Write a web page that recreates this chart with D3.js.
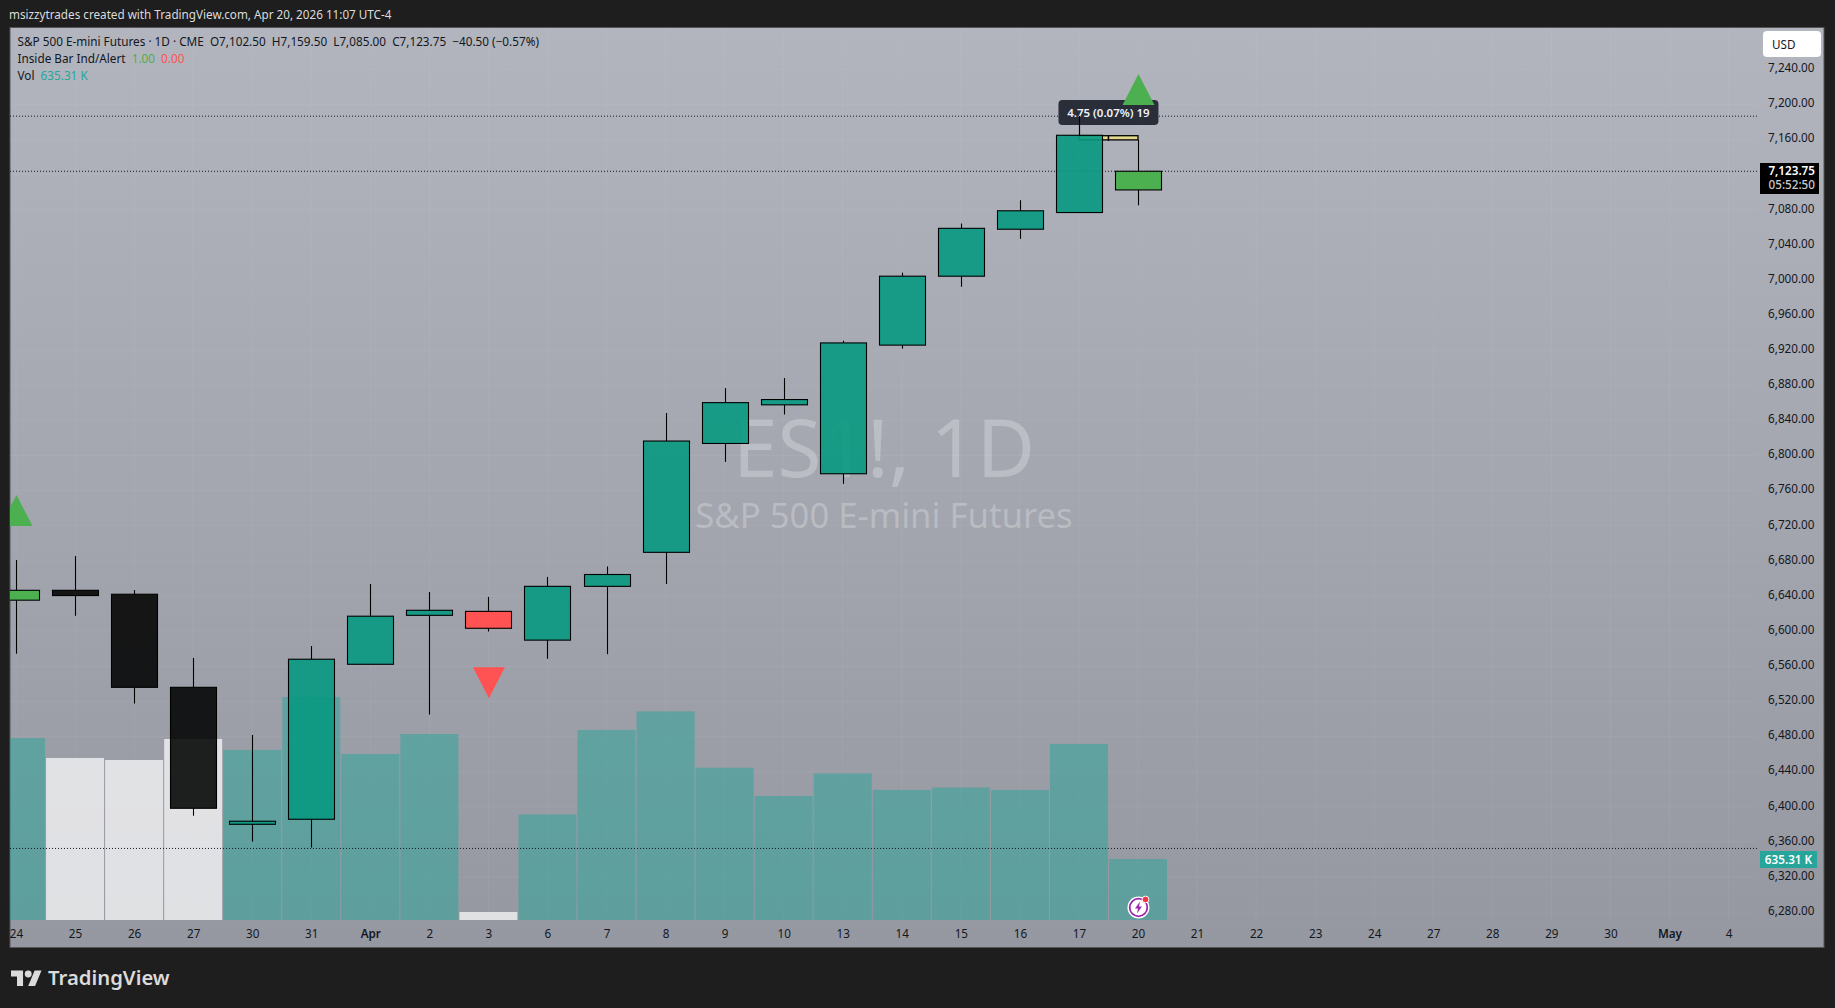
<!DOCTYPE html>
<html>
<head>
<meta charset="utf-8">
<script src="https://cdn.jsdelivr.net/npm/d3@7"></script>
<style>
html, body { margin: 0; padding: 0; background: #1e1e1e; overflow: hidden; }
svg text { font-family: "Noto Sans", sans-serif; }
</style>
</head>
<body>
<svg id="chart" width="1835" height="1008"></svg>
<script>
const svg = d3.select('#chart')

// chart data
const dayLabels = ['24','25','26','27','30','31','Apr','2','3','6','7','8','9','10','13','14','15','16','17','20',
	'21','22','23','24','27','28','29','30','May','4']
const opens  = [6635.25,6646.5,6642,6536,6380,6385.75,6562.25,6618,6622.5,6589.75,6651,6689.75,6813.75,6857.75,6779.25,6925.75,7004.25,7057.75,7076.75,7102.5]
const highs  = [6681,6685.5,6646.75,6569.5,6481.75,6583,6653.75,6644.5,6639,6661.75,6673.75,6848.5,6876.75,6888.25,6930.75,7008.25,7064.25,7090.75,7186.75,7159.5]
const lows   = [6574.25,6617.5,6517.5,6389.75,6360.25,6353.5,6562.25,6505,6599.5,6568.5,6573.75,6653.75,6792.75,6846.75,6767.75,6921.75,6992.25,7046.75,7076.75,7085]
const closes = [6646.5,6640.5,6536,6398.25,6383.5,6568,6617,6623.75,6603.25,6651,6664.5,6816.5,6860.25,6863.75,6928.25,7004.25,7058.75,7078.75,7164.75,7123.75]
const candleKinds = ['inside','black','black','black','teal','teal','teal','teal','red','teal','teal','teal','teal','teal','teal','teal','teal','teal','teal','inside']
const volumes = [1895,1687,1666,1885,1771,2322,1729,1937,83,1099,1979,2172,1586,1291,1526,1354,1379,1354,1833,635.31]
const volumeKinds = ['teal','white','white','white','teal','teal','teal','teal','white','teal','teal','teal','teal','teal','teal','teal','teal','teal','teal','teal']
const signalBars = [0, 8, 19]
const signalDirs = ['up', 'down', 'up']
const signalPrices = [6719.75, 6559, 7199.25]
const priceLines = [7186.5, 7123.75, 6352.5]
const priceTicks = d3.range(6280, 7241, 40)
const measureFrom = 7159.5
const measureTo = 7164.25

const bodyColors = { inside: '#4caf50', black: '#000000', teal: '#089981', red: '#ff5252' }
const bodyAlpha = { inside: 1, black: 0.87, teal: 0.9, red: 1 }
const volColors = { teal: 'rgba(38,166,154,0.5)', white: 'rgba(255,255,255,0.7)' }
const textColor = '#131722'

// pane geometry
const paneLeft = 10
const paneRight = 1757
const paneTop = 28
const paneBottom = 920
const frameRight = 1824
const frameBottom = 947
const bodyWidth = 46
const volWidth = 58

const xScale = d3.scaleLinear().domain([0, 29]).range([16, 1728.5])
const yScale = d3.scaleLinear().domain([6280, 7240]).range([912.1, 69.2])
const volScale = d3.scaleLinear().domain([0, 2322]).range([paneBottom, 697])

const defs = svg.append('defs')
const grad = defs.append('linearGradient').attr('id', 'bg').attr('x1', 0).attr('x2', 0).attr('y1', 0).attr('y2', 1)
grad.append('stop').attr('offset', 0).attr('stop-color', '#b2b5be')
grad.append('stop').attr('offset', 1).attr('stop-color', '#9598a1')
defs.append('clipPath').attr('id', 'pane').append('rect')
	.attr('x', paneLeft).attr('y', paneTop).attr('width', paneRight - paneLeft).attr('height', paneBottom - paneTop)
defs.append('clipPath').attr('id', 'timeClip').append('rect')
	.attr('x', paneLeft).attr('y', paneBottom).attr('width', paneRight - paneLeft).attr('height', frameBottom - paneBottom)

// header
svg.append('text').attr('x', 9).attr('y', 19)
	.text('msizzytrades created with TradingView.com, Apr 20, 2026 11:07 UTC-4')
	.style('font-size', '11.7px').style('fill', '#dbdbdb')

// frame and background
svg.append('rect').attr('x', paneLeft).attr('y', paneTop - 0.5)
	.attr('width', frameRight - paneLeft).attr('height', frameBottom - paneTop + 1)
	.attr('fill', 'url(#bg)').attr('stroke', '#555')

// faint grid
const grid = svg.append('g').attr('clip-path', 'url(#pane)')
grid.selectAll('line.v').data(d3.range(30)).enter().append('line')
	.attr('x1', d => xScale(d)).attr('x2', d => xScale(d)).attr('y1', paneTop).attr('y2', paneBottom)
	.attr('stroke', 'rgba(255,255,255,0.05)')
grid.selectAll('line.h').data(priceTicks).enter().append('line')
	.attr('x1', paneLeft).attr('x2', paneRight).attr('y1', d => yScale(d)).attr('y2', d => yScale(d))
	.attr('stroke', 'rgba(255,255,255,0.05)')

// watermark
svg.append('text').attr('x', 884).attr('y', 477).attr('text-anchor', 'middle')
	.text('ES1!, 1D').style('font-size', '80px').style('fill', 'rgba(255,255,255,0.25)')
svg.append('text').attr('x', 884).attr('y', 528).attr('text-anchor', 'middle')
	.text('S&P 500 E-mini Futures').style('font-size', '34.7px').style('fill', 'rgba(255,255,255,0.25)')

const pane = svg.append('g').attr('clip-path', 'url(#pane)')

// volume
pane.selectAll('rect.vol').data(volumes).enter().append('rect')
	.attr('class', 'vol')
	.attr('x', (d, i) => xScale(i) - volWidth / 2)
	.attr('width', volWidth)
	.attr('y', d => volScale(d))
	.attr('height', d => paneBottom - volScale(d))
	.attr('fill', (d, i) => volColors[volumeKinds[i]])

// price lines
pane.selectAll('line.price').data(priceLines).enter().append('line')
	.attr('x1', paneLeft).attr('x2', paneRight)
	.attr('y1', d => yScale(d)).attr('y2', d => yScale(d))
	.attr('stroke', '#131722').attr('stroke-width', 1).attr('stroke-dasharray', '1 2')

// measure tool between bars 17 and 20, it lies under the candles
pane.append('rect')
	.attr('x', xScale(18)).attr('width', xScale(19) - xScale(18))
	.attr('y', yScale(measureTo)).attr('height', yScale(measureFrom) - yScale(measureTo))
	.attr('fill', '#e3d98c').attr('stroke', '#000').attr('stroke-width', 1.3)
pane.append('line')
	.attr('x1', (xScale(18) + xScale(19)) / 2).attr('x2', (xScale(18) + xScale(19)) / 2)
	.attr('y1', yScale(measureTo)).attr('y2', yScale(measureFrom) + 1)
	.attr('stroke', '#000').attr('stroke-width', 1.5)

// candles, wicks stop at the body
const candles = pane.selectAll('g.candle').data(opens).enter().append('g').attr('class', 'candle')
const wickX = i => Math.round(xScale(i)) + 0.5
candles.append('line')
	.attr('x1', (d, i) => wickX(i)).attr('x2', (d, i) => wickX(i))
	.attr('y1', (d, i) => yScale(highs[i])).attr('y2', (d, i) => yScale(Math.max(d, closes[i])))
	.attr('stroke', '#000').attr('stroke-width', 1.1)
candles.append('line')
	.attr('x1', (d, i) => wickX(i)).attr('x2', (d, i) => wickX(i))
	.attr('y1', (d, i) => yScale(Math.min(d, closes[i]))).attr('y2', (d, i) => yScale(lows[i]))
	.attr('stroke', '#000').attr('stroke-width', 1.1)
candles.append('rect')
	.attr('x', (d, i) => Math.round(xScale(i) - bodyWidth / 2) + 0.5)
	.attr('width', bodyWidth)
	.attr('y', (d, i) => yScale(Math.max(d, closes[i])))
	.attr('height', (d, i) => Math.abs(yScale(d) - yScale(closes[i])))
	.attr('fill', (d, i) => bodyColors[candleKinds[i]])
	.attr('fill-opacity', (d, i) => bodyAlpha[candleKinds[i]])
	.attr('stroke', '#000').attr('stroke-width', 1.1)

// tooltip of the measure tool
const tipX = (xScale(18) + xScale(19)) / 2
svg.append('rect').attr('x', tipX - 50).attr('y', 100).attr('width', 100).attr('height', 25)
	.attr('rx', 4).attr('fill', '#2a2e39')
svg.append('text').attr('x', tipX).attr('y', 116.5).attr('text-anchor', 'middle')
	.text('4.75 (0.07%) 19').style('font-size', '11.5px').style('font-weight', 600).style('fill', '#f0f3fa')
// wick of the 17th bar is on top of the tooltip
svg.append('line').attr('x1', wickX(18)).attr('x2', wickX(18))
	.attr('y1', yScale(highs[18])).attr('y2', yScale(closes[18]))
	.attr('stroke', '#000').attr('stroke-width', 1.1)

// inside bar signals
const triHalf = 16
const triHeight = 31
svg.append('g').attr('clip-path', 'url(#pane)').selectAll('path.signal').data(signalBars).enter().append('path')
	.attr('d', (d, i) => {
		const cx = xScale(d) + 0.5
		const base = yScale(signalPrices[i])
		const tip = signalDirs[i] === 'up' ? base - triHeight : base + triHeight
		return `M ${cx - triHalf} ${base} L ${cx + triHalf} ${base} L ${cx} ${tip} Z`
	})
	.attr('fill', (d, i) => signalDirs[i] === 'up' ? '#4caf50' : '#ff5252')

// price axis, the 7,120 tick sits under the last price label
const yAxis = d3.axisRight(yScale).tickValues(priceTicks.filter(d => d !== 7120)).tickSize(0).tickFormat(d3.format(',.2f'))
const yTicks = svg.append('g').attr('transform', 'translate(1814.5, 0)').call(yAxis)
yTicks.select('path.domain').remove()
yTicks.selectAll('text').attr('x', 0).attr('dy', '0.2em').attr('text-anchor', 'end')
	.style('font-size', '11.7px').style('font-family', '"Noto Sans", sans-serif').style('fill', textColor)

// time axis
const xAxis = d3.axisBottom(xScale).tickValues(d3.range(30)).tickSize(0).tickFormat(i => dayLabels[i])
const xTicks = svg.append('g').attr('clip-path', 'url(#timeClip)').append('g')
	.attr('transform', `translate(0, ${paneBottom})`).call(xAxis)
xTicks.select('path.domain').remove()
xTicks.selectAll('text').attr('y', 18).attr('dy', 0)
	.style('font-size', '11.7px').style('font-family', '"Noto Sans", sans-serif').style('fill', textColor)
	.style('font-weight', (i) => (dayLabels[i] === 'Apr' || dayLabels[i] === 'May') ? 600 : 400)

// USD button
svg.append('rect').attr('x', 1763).attr('y', 31).attr('width', 58).attr('height', 26).attr('rx', 4).attr('fill', '#fff')
svg.append('text').attr('x', 1772).attr('y', 49).text('USD').style('font-size', '11.7px').style('fill', textColor)

// last price label
svg.append('rect').attr('x', 1760).attr('y', 163).attr('width', 59).attr('height', 31).attr('fill', '#000')
svg.append('text').attr('x', 1815).attr('y', 175).attr('text-anchor', 'end')
	.text(d3.format(',.2f')(closes[19])).style('font-size', '11.7px').style('font-weight', 600).style('fill', '#fff')
svg.append('text').attr('x', 1815).attr('y', 189).attr('text-anchor', 'end')
	.text('05:52:50').style('font-size', '11.7px').style('font-weight', 500).style('fill', '#c8c8c8')

// volume label
svg.append('rect').attr('x', 1760).attr('y', 851).attr('width', 57).attr('height', 17).attr('fill', '#26a69a')
svg.append('text').attr('x', 1788.5).attr('y', 864).attr('text-anchor', 'middle')
	.text(volumes[19] + ' K').style('font-size', '11.7px').style('font-weight', 600).style('fill', '#fff')

// legend
const legend = svg.append('g').style('font-size', '11.75px').style('fill', textColor)
legend.append('text').attr('x', 17.5).attr('y', 46)
	.text('S&P 500 E-mini Futures · 1D · CME  O7,102.50  H7,159.50  L7,085.00  C7,123.75  −40.50 (−0.57%)')
	.attr('xml:space', 'preserve').style('white-space', 'pre')
const legend2 = legend.append('text').attr('x', 17.5).attr('y', 63).style('white-space', 'pre')
legend2.append('tspan').text('Inside Bar Ind/Alert  ')
legend2.append('tspan').text('1.00  ').style('fill', '#4caf50')
legend2.append('tspan').text('0.00').style('fill', '#ff5252')
const legend3 = legend.append('text').attr('x', 17.5).attr('y', 80).style('white-space', 'pre')
legend3.append('tspan').text('Vol  ')
legend3.append('tspan').text('635.31 K').style('fill', '#26a69a')

// lightning icon on the last bar
const icon = svg.append('g').attr('transform', `translate(${xScale(19) + 0.5}, 907.5)`)
icon.append('circle').attr('r', 11).attr('fill', '#fff')
icon.append('circle').attr('r', 8.8).attr('fill', '#fff').attr('stroke', '#9c27b0').attr('stroke-width', 1.8)
icon.append('path').attr('d', 'M 1.5 -6 L -3.5 1 L -0.5 1 L -1.5 6 L 3.5 -1 L 0.5 -1 Z').attr('fill', '#9c27b0')
icon.append('circle').attr('cx', 7).attr('cy', -8).attr('r', 3.4).attr('fill', '#f23645').attr('stroke', '#fff').attr('stroke-width', 1)

// TradingView mark
const logo = svg.append('g').attr('transform', 'translate(11, 970.5) scale(0.86)').attr('fill', '#dbdbdb')
logo.append('path').attr('d', 'M14 18H7V7H0V0h14v18zM28 18h-8l7.5-18h8L28 18z')
logo.append('circle').attr('cx', 20).attr('cy', 4).attr('r', 4)
svg.append('text').attr('x', 48).attr('y', 985)
	.text('TradingView').style('font-size', '20.3px').style('font-weight', 600).style('fill', '#dbdbdb')
</script>
</body>
</html>
